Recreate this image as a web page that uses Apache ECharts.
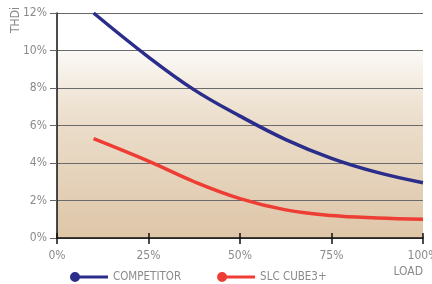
<!DOCTYPE html>
<html>
<head>
<meta charset="utf-8">
<script src="https://cdn.jsdelivr.net/npm/echarts@6/dist/echarts.min.js"></script>
<style>
html, body { margin: 0; padding: 0; background: #fff; }
#chart { width: 432px; height: 284px; }
</style>
</head>
<body>
<div id="chart"></div>
<script>
// load (%) and THDi (%)
var loads = [10, 25, 37.5, 50, 62.5, 75, 87.5, 100];
var competitor = [12.0, 9.65, 7.9, 6.5, 5.25, 4.25, 3.5, 2.95];
var slcCube = [5.3, 4.1, 3.0, 2.1, 1.5, 1.2, 1.07, 1.0];
var xTicks = [0, 25, 50, 75, 100];
var yTicks = [0, 2, 4, 6, 8, 10, 12];

var font = '"DejaVu Sans Condensed", "Liberation Sans Narrow", sans-serif';
var grey = '#8a8a8a';

function pairs(ys) {
    return loads.map(function (x, i) { return [x, ys[i]]; });
}

// dot + thick bar, both drawn clockwise so they fill as one shape
var legendIcon = 'path://M0,5 A5,5 0 1,1 10,5 A5,5 0 1,1 0,5 Z M5,3.4 L38,3.4 L38,6.6 L5,6.6 Z';

// white above the 10% line, beige fade below it
var plotBg = new echarts.graphic.LinearGradient(0, 0, 0, 1, [
    { offset: 0, color: '#ffffff' },
    { offset: 0.166, color: '#ffffff' },
    { offset: 0.167, color: '#fbf9f6' },
    { offset: 0.45, color: '#ecdfcd' },
    { offset: 1, color: '#dec6a8' }
]);

var chart = echarts.init(document.getElementById('chart'));
var option = {
    animation: false,
    color: ['#2b2d8a', '#ee3d35'],
    grid: {
        left: 57, right: 9, top: 13, bottom: 46,
        containLabel: false, outerBoundsMode: 'none',
        show: true, borderWidth: 0, backgroundColor: plotBg
    },
    legend: {
        left: 65,
        top: 266,
        itemWidth: 38,
        itemHeight: 10,
        itemGap: 36,
        icon: legendIcon,
        textStyle: { color: grey, fontFamily: font, fontSize: 11.5 },
        data: ['COMPETITOR', 'SLC CUBE3+']
    },
    graphic: [{
        type: 'text',
        x: 16,
        y: 20,
        rotation: Math.PI / 2,
        style: { text: 'THDi', fill: grey, font: '12px ' + font, align: 'center', verticalAlign: 'middle' }
    }],
    xAxis: [{
        type: 'value',
        min: xTicks[0],
        max: xTicks[xTicks.length - 1],
        interval: 25,
        name: 'LOAD',
        nameLocation: 'end',
        nameGap: 0,
        nameTextStyle: { color: grey, fontFamily: font, fontSize: 12, align: 'right', verticalAlign: 'top', padding: [28, 0, 0, 0] },
        axisLine: { lineStyle: { color: '#111', width: 1.5 } },
        axisTick: { length: 6, lineStyle: { color: '#111', width: 1.5 } },
        axisLabel: { color: grey, fontFamily: font, fontSize: 12, margin: 12, formatter: '{value}%' },
        splitLine: { show: false }
    }, {
        type: 'value',
        position: 'bottom',
        min: xTicks[0],
        max: xTicks[xTicks.length - 1],
        interval: 25,
        axisLine: { show: false },
        axisTick: { inside: true, length: 5, lineStyle: { color: '#111', width: 1.5 } },
        axisLabel: { show: false },
        splitLine: { show: false }
    }],
    yAxis: {
        type: 'value',
        min: yTicks[0],
        max: yTicks[yTicks.length - 1],
        interval: 2,
        axisLine: { show: true, lineStyle: { color: '#111', width: 1.5 } },
        axisTick: { show: true, length: 7, lineStyle: { color: '#666', width: 1 } },
        axisLabel: { color: grey, fontFamily: font, fontSize: 12, margin: 10, formatter: '{value}%' },
        splitLine: { lineStyle: { color: '#6a6a6a', width: 1 } }
    },
    series: [{
        name: 'COMPETITOR',
        type: 'line',
        smooth: 0.4,
        showSymbol: false,
        lineStyle: { width: 3.5 },
        data: pairs(competitor),
        z: 3
    }, {
        name: 'SLC CUBE3+',
        type: 'line',
        smooth: 0.4,
        showSymbol: false,
        lineStyle: { width: 3.5 },
        data: pairs(slcCube),
        z: 3
    }]
};
chart.setOption(option);
</script>
</body>
</html>
